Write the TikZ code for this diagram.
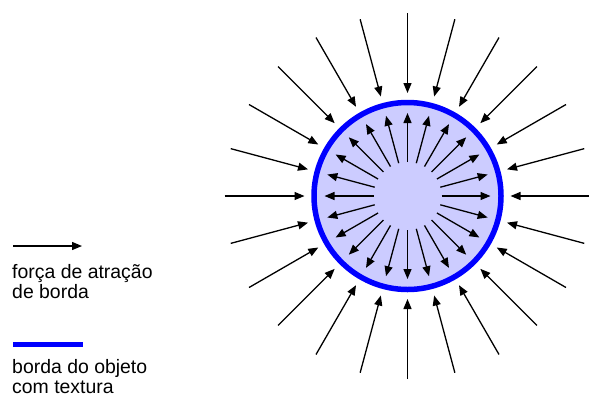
\documentclass[tikz,border=0pt]{standalone}
\usepackage{fontspec}
\setmainfont{Liberation Sans}
\usepackage{tikz}
\usetikzlibrary{arrows.meta}
\definecolor{texture}{RGB}{204,204,255}

\begin{document}
\begin{tikzpicture}[
    x=1bp, y=-1bp,
    force/.style={-{Triangle[length=10bp,width=8bp]}, line width=1.3bp},
    edge/.style={blue, line width=5.5bp},
    legend/.style={anchor=base west, inner sep=0pt, align=left,
                   font=\fontsize{19.5}{20}\selectfont}
]
\useasboundingbox (0,0) rectangle (589,398);

% object with its border
\node[circle, minimum size=187bp, fill=texture, draw=blue, line width=5.5bp] (obj) at (407.5,196) {};

% 24 forces: outside pulling in, inside pushing out
\foreach \a in {0,15,...,345} {
  \coordinate (far\a)  at ([shift={(\a:183)}]obj.center);
  \coordinate (near\a) at ([shift={(\a:103)}]obj.center);
  \coordinate (in\a)   at ([shift={(\a:34)}]obj.center);
  \coordinate (rim\a)  at ([shift={(\a:83)}]obj.center);
  \draw[force] (far\a) -- (near\a);
  \draw[force] (in\a) -- (rim\a);
}

% Legend (base = last line)
\coordinate (arrowstart) at (13,246);
\coordinate (arrowend) at (82,246);
\draw[force] (arrowstart) -- (arrowend);
\node[legend] (forcetext) at (12,298.5) {força de atração\\de borda};

\coordinate (linestart) at (13,344.5);
\coordinate (lineend) at (83,344.5);
\draw[edge] (linestart) -- (lineend);
\node[legend] (edgetext) at (12,393) {borda do objeto\\com textura};
\end{tikzpicture}
\end{document}
